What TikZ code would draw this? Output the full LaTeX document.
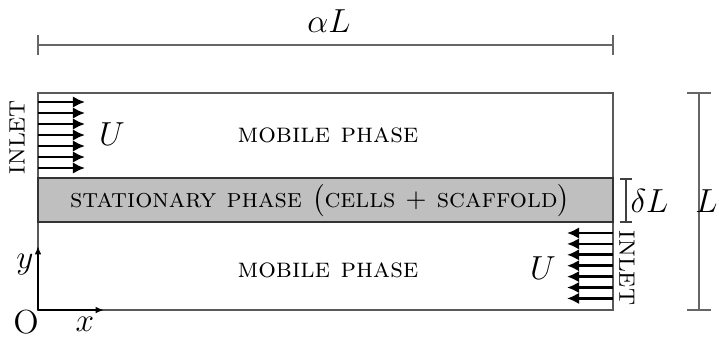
\documentclass[tikz,border=0pt]{standalone}
\usetikzlibrary{arrows.meta}
\begin{document}
\begin{tikzpicture}[x=0.36pt,y=-0.36pt,
  dimline/.style={draw=black!60,line width=0.55pt},
  inletarrow/.style={draw=black,line width=1pt,-{Latex[length=4.4pt,width=4.2pt]}},
  axisarrow/.style={draw=black,line width=0.8pt,-{Latex[length=3pt,width=2.4pt]}},
  lab/.style={inner sep=0pt,font=\large},
  inlet/.style={inner sep=0pt,font=\footnotesize},
  phase/.style={inner sep=0pt,font=\scshape}]
\useasboundingbox (0,0) rectangle (719,338);
% outer domain
\draw[draw=black!65,line width=0.4pt] (38,93) rectangle (613,310);
% stationary phase
\draw[draw=black!80,line width=0.8pt,fill=black!25] (38,178) rectangle (613,222);
\node[phase,scale=0.97] (stat) at (320,201) {stationary phase $\big($cells $+$ scaffold$\big)$};
\node[phase] (mob1) at (328,135) {mobile phase};
\node[phase] (mob2) at (328,270) {mobile phase};
% top dimension alpha L
\coordinate (aL1) at (38,45); \coordinate (aL2) at (613,45);
\draw[dimline] (aL1) -- (aL2);
\draw[dimline] (38,35) -- (38,55);
\draw[dimline] (613,35) -- (613,55);
\node[lab] (alphaL) at (329,21) {$\alpha L$};
% right dimension L
\coordinate (L1) at (699,93); \coordinate (L2) at (699,310);
\draw[dimline] (L1) -- (L2);
\draw[dimline] (687,93) -- (711,93);
\draw[dimline] (687,310) -- (711,310);
\node[lab,anchor=east] (Llab) at (718,201) {$L$};
% delta L
\coordinate (d1) at (626,179); \coordinate (d2) at (626,222);
\draw[draw=black!75,line width=0.45pt] (d1) -- (d2);
\draw[draw=black!75,line width=0.45pt] (620,179) -- (632,179);
\draw[draw=black!75,line width=0.45pt] (620,222) -- (632,222);
\node[lab,anchor=west] (dL) at (630,201) {$\delta L$};
% left inlet
\foreach \i in {0,...,6}{
  \coordinate (ls\i) at (38,{102+11*\i});
  \coordinate (le\i) at (85,{102+11*\i});
  \draw[inletarrow] (ls\i) -- (le\i);
}
\node[inlet,rotate=90] (inL) at (17,137) {INLET};
\node[lab] (UL) at (112,134) {$U$};
% right inlet
\foreach \i in {0,...,6}{
  \coordinate (rs\i) at (613,{233+10.9*\i});
  \coordinate (re\i) at (567,{233+10.9*\i});
  \draw[inletarrow] (rs\i) -- (re\i);
}
\node[inlet,rotate=-90] (inR) at (627,268) {INLET};
\node[lab] (UR) at (543,268) {$U$};
% axes
\coordinate (O) at (38,310);
\coordinate (xe) at (104,310);
\coordinate (ye) at (38,246);
\draw[axisarrow] (O) -- (xe);
\draw[axisarrow] (O) -- (ye);
\node[lab] (Olab) at (26,322) {O};
\node[lab] (xlab) at (85,324) {$x$};
\node[lab] (ylab) at (25,265) {$y$};
\end{tikzpicture}
\end{document}
